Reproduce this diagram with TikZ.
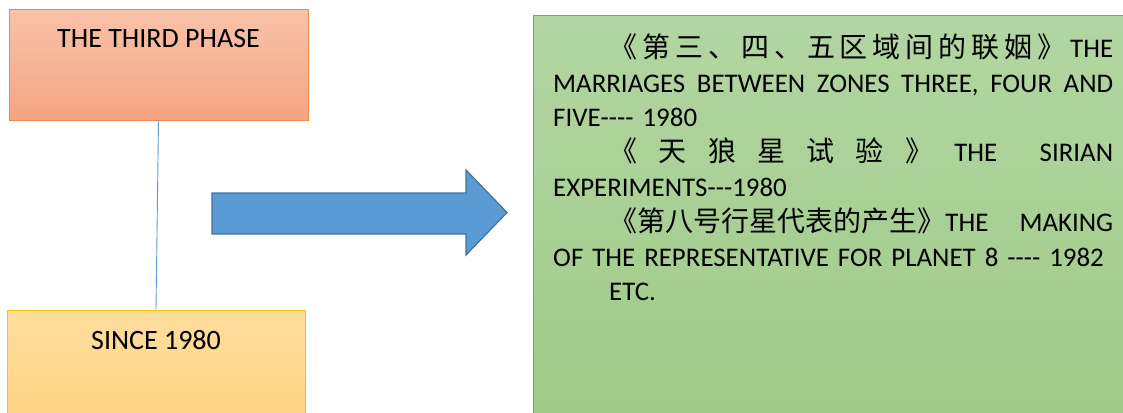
\documentclass[tikz,border=0pt]{standalone}
\usepackage{fontspec}
\newfontfamily\calfont{Carlito}
\newfontfamily\cjk{Noto Sans CJK SC}[Scale=1.04]
\definecolor{orTop}{HTML}{F8C2A9}
\definecolor{orBot}{HTML}{F4A582}
\definecolor{orEdge}{HTML}{F0884A}
\definecolor{ylTop}{HTML}{FEDD9E}
\definecolor{ylBot}{HTML}{FED27E}
\definecolor{ylEdge}{HTML}{FFC000}
\definecolor{grTop}{HTML}{B2D6A2}
\definecolor{grBot}{HTML}{9ECA86}
\definecolor{grEdge}{HTML}{75B04E}
\definecolor{arFill}{HTML}{5B9BD5}
\definecolor{arEdge}{HTML}{41719C}
\newcommand{\hy}{\mbox{-}}
\newcommand{\fullline}[1]{\leavevmode\hbox to \linewidth{#1}}
\tikzset{
  box/.style={draw, line width=1pt, rectangle, inner sep=0pt, shading=axis, shading angle=0},
  lbl/.style={font=\calfont\fontsize{28}{32}\selectfont, inner sep=0pt, text=black},
  link/.style={draw=arFill, line width=0.9pt}
}
\begin{document}
\begin{tikzpicture}[x=1pt,y=-1pt]
\useasboundingbox (0,0) rectangle (1123,412);
\clip (0,0) rectangle (1123,412);
% boxes
\node[box, draw=orEdge, top color=orTop, bottom color=orBot,
      minimum width=299pt, minimum height=110pt] (p3) at (158.5,65) {};
\node[box, draw=ylEdge, top color=ylTop, bottom color=ylBot,
      minimum width=298pt, minimum height=130pt] (s80) at (156,375) {};
\node[box, draw=grEdge, top color=grTop, bottom color=grBot,
      minimum width=620pt, minimum height=420pt] (books) at (843,226) {};
\node[lbl] (p3t) at (158.5,39) {THE THIRD PHASE};
\node[lbl] (s80t) at (156,340) {SINCE 1980};
\draw[link] (p3.south) -- (s80.north);
% block arrow
\draw[fill=arFill, draw=arEdge, line width=1.2pt, line join=miter]
  (212,193) -- (466,193) -- (466,170) -- (507,212.5) -- (466,255) -- (466,234) -- (212,234) -- cycle;
% text
\node[anchor=north west, inner sep=0pt, text width=560pt, align=left,
      font=\calfont\fontsize{26.9}{34.8}\selectfont] (bt) at (553,33.5) {%
\fullline{\hspace*{2.1em}{\cjk《\hfill 第\hfill 三\hfill 、\hfill 四\hfill 、\hfill 五\hfill 区\hfill 域\hfill 间\hfill 的\hfill 联\hfill 姻\hfill 》}\hfill THE}\\
\fullline{MARRIAGES\hfill BETWEEN\hfill ZONES\hfill THREE,\hfill FOUR\hfill AND}\\
FIVE\hy\hy\hy\hy\ 1980\\
\fullline{\hspace*{2.1em}{\cjk《\hfill 天\hfill 狼\hfill 星\hfill 试\hfill 验\hfill 》}\hfill THE\hfill\hfill SIRIAN}\\
EXPERIMENTS\hy\hy\hy 1980\\
\fullline{\hspace*{2.1em}{\cjk《第八号行星代表的产生》}THE\hfill MAKING}\\
\fullline{OF THE REPRESENTATIVE FOR PLANET 8 \hy\hy\hy\hy\ 1982\hfill}\\
\hspace*{56pt}ETC.};
\end{tikzpicture}
\end{document}
